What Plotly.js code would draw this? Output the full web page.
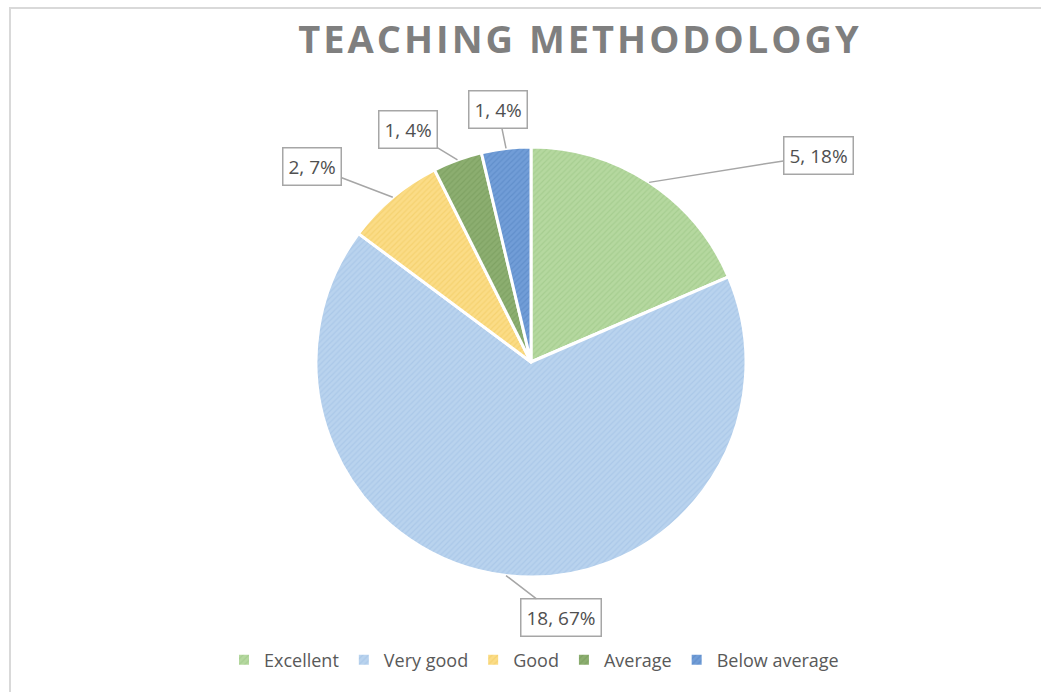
<!DOCTYPE html>
<html>
<head>
<meta charset="utf-8">
<script src="https://cdn.plot.ly/plotly-3.0.1.min.js"></script>
<style>
  html, body { margin: 0; padding: 0; background: #fff; }
  #wrap { position: relative; width: 1041px; height: 692px; overflow: hidden; }
  #frame { position: absolute; left: 9px; top: 7px; width: 1100px; height: 760px; border: 2px solid #d9d9d9; box-sizing: border-box; pointer-events: none; z-index: 5; }
  #chart { position: absolute; left: 0; top: 0; width: 1041px; height: 692px; }
  .gtitle { letter-spacing: 3px; }
</style>
</head>
<body>
<div id="wrap">
  <div id="chart"></div>
  <div id="frame"></div>
</div>
<script>
const categories = ["Excellent", "Very good", "Good", "Average", "Below average"];
const counts = [5, 18, 2, 1, 1];
const percentLabels = ["18%", "67%", "7%", "4%", "4%"];
const sliceColors = ["#b5d89f", "#b9d3ee", "#fbdc86", "#8cae70", "#719dd7"];
const patternColors = ["#a0c98a", "#a5c3e6", "#f2cd68", "#799d5d", "#5a88c6"];

// callout box offsets (px) from each slice's rim point
const calloutOffsets = [[169, -27], [55, 42], [-81, -31], [-49, -30], [-8, -39]];

const W = 1041, H = 692;
const cx = 531, cy = 362, R = 215;
const domX = [(cx - R) / W, (cx + R) / W];
const domY = [1 - (cy + R) / H, 1 - (cy - R) / H];

const total = counts.reduce((a, b) => a + b, 0);
let cum = 0;
const annotations = counts.map((v, i) => {
  const mid = (cum + v / 2) / total;
  cum += v;
  const ang = mid * 2 * Math.PI;
  const px = cx + R * Math.sin(ang);
  const py = cy - R * Math.cos(ang);
  return {
    x: px / W, y: 1 - py / H, xref: 'paper', yref: 'paper',
    text: counts[i] + ', ' + percentLabels[i],
    showarrow: true, arrowhead: 0, arrowwidth: 1.5, arrowcolor: '#a6a6a6',
    ax: calloutOffsets[i][0], ay: calloutOffsets[i][1],
    bgcolor: '#ffffff', bordercolor: '#a6a6a6', borderwidth: 1.5, borderpad: 5,
    font: { family: 'Open Sans, sans-serif', size: 19, color: '#505050' }
  };
});

const trace = {
  type: 'pie',
  labels: categories,
  values: counts,
  sort: false,
  direction: 'clockwise',
  rotation: 0,
  textinfo: 'none',
  hoverinfo: 'label+value+percent',
  domain: { x: domX, y: domY },
  marker: {
    colors: sliceColors,
    line: { color: '#ffffff', width: 3 },
    pattern: { shape: '/', size: 4, solidity: 0.3, fgcolor: patternColors, bgcolor: sliceColors, fgopacity: 0.7 }
  }
};

const layout = {
  width: W, height: H,
  margin: { l: 0, r: 0, t: 0, b: 0 },
  paper_bgcolor: '#ffffff',
  title: {
    text: '<b>TEACHING METHODOLOGY</b>',
    x: 580 / W, xanchor: 'center', xref: 'paper',
    y: 1 - 40 / H, yanchor: 'middle', yref: 'paper',
    font: { family: 'Open Sans, sans-serif', size: 38, color: '#7f7f7f' }
  },
  showlegend: true,
  legend: {
    orientation: 'h', x: 534 / W, xanchor: 'center', y: 1 - 660 / H, yanchor: 'middle',
    font: { family: 'Open Sans, sans-serif', size: 18, color: '#595959' },
    itemwidth: 30, itemsizing: 'constant', traceorder: 'normal'
  },
  annotations: annotations
};

Plotly.newPlot('chart', [trace], layout, { displayModeBar: false, staticPlot: true });
</script>
</body>
</html>
